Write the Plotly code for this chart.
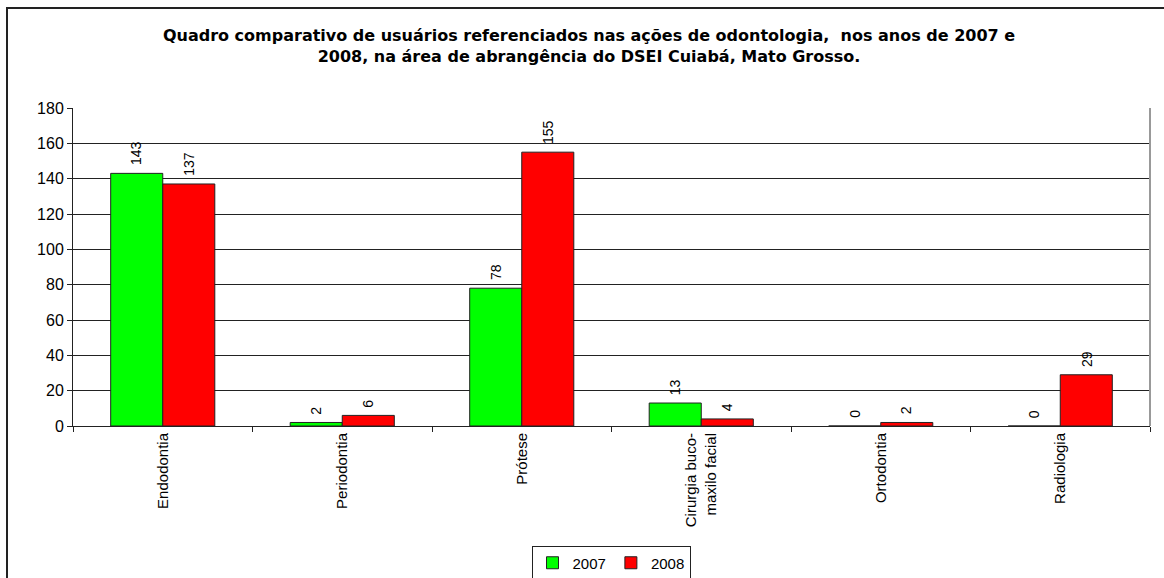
import plotly.graph_objects as go

categories = ["Endodontia", "Periodontia", "Prótese", "Cirurgia buco-<br>maxilo facial", "Ortodontia", "Radiologia"]
values_2007 = [143, 2, 78, 13, 0, 0]
values_2008 = [137, 6, 155, 4, 2, 29]
y_ticks = [0, 20, 40, 60, 80, 100, 120, 140, 160, 180]

W, H = 1164, 578
L, R, T, B = 73, 14, 108, 152
pw, ph = W - L - R, H - T - B
BARGAP = 0.42

def px(x):
    return (x - L) / pw

def py(y):
    return (H - B - y) / ph

fig = go.Figure()
fig.add_bar(name="2007", x=categories, y=values_2007, marker=dict(color="#00ff00", line=dict(color="#222", width=1)))
fig.add_bar(name="2008", x=categories, y=values_2008, marker=dict(color="#ff0000", line=dict(color="#222", width=1)))

# data labels above bars
half = pw / len(categories) * (1 - BARGAP) / 4
annotations = []
for vals, sh in ((values_2007, -half), (values_2008, half)):
    for c, v in zip(categories, vals):
        annotations.append(dict(x=c, y=v, xref="x", yref="y", text=str(v), showarrow=False,
                                textangle=-90, xanchor="center", yanchor="bottom", xshift=sh, yshift=6,
                                font=dict(family="Arial", size=14, color="black")))

fig.update_layout(
    width=W, height=H,
    margin=dict(l=L, r=R, t=T, b=B, autoexpand=False),
    paper_bgcolor="white", plot_bgcolor="white",
    barmode="group", bargap=BARGAP, bargroupgap=0,
    title=dict(text="Quadro comparativo de usuários referenciados nas ações de odontologia,  nos anos de 2007 e<br>2008, na área de abrangência do DSEI Cuiabá, Mato Grosso.",
               xref="container", yref="container",
               x=589 / W, xanchor="center", y=1 - 41 / H, yanchor="middle",
               font=dict(family="DejaVu Sans", size=16, color="black", weight="bold")),
    font=dict(family="Arial", color="black"),
    legend=dict(orientation="h", x=px(611), xanchor="center", y=py(563), yanchor="middle",
                bordercolor="#222", borderwidth=1, bgcolor="white",
                font=dict(family="Arial", size=15, color="black"), itemwidth=30,
                tracegroupgap=0),
    showlegend=True,
    annotations=annotations,
    xaxis=dict(showline=True, linecolor="#222", linewidth=1, ticks="outside", ticklen=5,
               tickcolor="#222", tickson="boundaries", tickangle=-90, automargin=False,
               tickfont=dict(family="Arial", size=15, color="black"), showgrid=False),
    yaxis=dict(range=[0, 180], tickvals=y_ticks, showline=True, linecolor="#222", linewidth=1,
               ticks="outside", ticklen=5, tickcolor="#222", showgrid=True, gridcolor="#222",
               gridwidth=1, tickfont=dict(family="Arial", size=16, color="black"), zeroline=False,
               automargin=False),
    shapes=[
        dict(type="line", xref="paper", yref="paper", x0=px(7), x1=px(7), y0=py(8), y1=py(600),
             line=dict(color="#222", width=2)),
        dict(type="line", xref="paper", yref="paper", x0=px(6), x1=px(1200), y0=py(8), y1=py(8),
             line=dict(color="#222", width=2)),
        dict(type="line", xref="paper", yref="paper", x0=1, x1=1, y0=0, y1=1,
             line=dict(color="#999", width=2)),
    ],
)

fig.write_html("out.html")
